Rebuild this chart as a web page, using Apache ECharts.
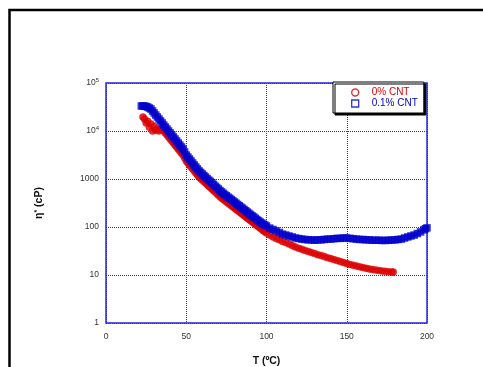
<!DOCTYPE html>
<html>
<head>
<meta charset="utf-8">
<script src="https://cdn.jsdelivr.net/npm/echarts@6/dist/echarts.min.js"></script>
<style>
  html, body { margin: 0; padding: 0; background: #fff; }
  #main { width: 483px; height: 367px; }
</style>
</head>
<body>
<div id="main"></div>
<script>
// 数据：温度 T (ºC) 与粘度 η* (cP)
var seriesNames = ['0% CNT', '0.1% CNT'];

var redT = [23, 24, 25, 26, 27, 28, 29, 30, 31, 32, 33, 34,
  35, 36, 37, 38, 39, 40, 41, 42, 43, 44, 45, 46, 47, 48, 49, 50,
  51, 52, 53, 54, 55, 56, 57, 58, 59, 60, 61, 62, 63, 64, 65, 66, 67, 68, 69, 70,
  71, 72, 73, 74, 75, 76, 77, 78, 79, 80, 81, 82, 83, 84, 85, 86, 87, 88, 89, 90,
  91, 92, 93, 94, 95, 96, 97, 98, 99, 100, 102, 104, 106, 108, 110,
  112, 114, 116, 118, 120, 122, 124, 126, 128, 130,
  132, 134, 136, 138, 140, 142, 144, 146, 148, 150, 152, 154, 156, 158, 160, 162, 164, 166, 168, 170,
  172, 174, 176, 178, 179];
var redEta = [19500, 17800, 14700, 16000, 12000, 14000, 10000, 12600, 10500, 11000, 10000, 11000,
  11000, 10000, 9090, 8250, 7500, 6810, 6190, 5620, 5110, 4640, 4220, 3830, 3480, 3160, 2740, 2370,
  2150, 1960, 1780, 1620, 1470, 1330, 1210, 1100, 1020, 950, 890, 830, 770, 710, 665, 620, 575, 540, 500, 465,
  430, 400, 380, 358, 335, 316, 297, 280, 264, 250, 235, 222, 209, 196, 185, 174, 164, 154, 145, 137,
  129, 121, 114, 107, 101, 95, 90, 84, 80, 75, 68, 62, 57.5, 54, 50,
  47.5, 44, 41, 38.5, 36, 34.5, 32.5, 31, 29.5, 28,
  26.5, 25.5, 24.3, 23, 22, 21, 20, 19.1, 18.2, 17.4, 16.6, 15.9, 15.4, 14.8, 14.3, 13.8, 13.4, 13, 12.7, 12.4,
  12.1, 11.9, 11.7, 11.6, 11.5];

var blueT = [22, 23, 24, 25, 26, 27, 28, 29, 30, 31, 32, 33, 34, 35, 36, 37, 38, 39, 40,
  41, 42, 43, 44, 45, 46, 47, 48, 49, 50, 51, 52, 53, 54, 55, 56, 57, 58, 59, 60,
  61, 62, 63, 64, 65, 66, 67, 68, 69, 70, 71, 72, 73, 74, 75, 76, 77, 78, 79, 80,
  81, 82, 83, 84, 85, 86, 87, 88, 89, 90, 91, 92, 93, 94, 95, 96, 97, 98, 99, 100,
  102, 104, 106, 108, 110, 112, 114, 116, 118, 120, 122, 124, 126, 128, 130,
  132, 134, 136, 138, 140, 142, 144, 146, 148, 150, 152, 154, 156, 158, 160, 162, 164, 166, 168, 170,
  172, 174, 176, 178, 180, 182, 184, 186, 188, 190, 192, 194, 196, 198, 199, 200];
var blueEta = [33200, 33200, 33200, 32400, 31600, 30100, 28700, 26100, 23700, 21500, 19600, 17800, 16200, 14700, 13300, 12100, 11000, 10000, 9090,
  8250, 7500, 6810, 6190, 5620, 5110, 4640, 4220, 3650, 3160, 2870, 2610, 2370, 2150, 1960, 1780, 1620, 1470, 1370, 1270,
  1180, 1100, 1020, 950, 890, 830, 770, 710, 665, 620, 575, 540, 505, 475, 448, 420, 397, 375, 352, 332,
  313, 294, 277, 261, 246, 232, 218, 205, 193, 182, 171, 162, 152, 143, 135, 127, 121, 115, 110, 105,
  95, 89, 83, 77, 71, 68, 65, 62, 59, 57.5, 56, 55, 54, 54, 53,
  54, 54, 55, 56, 56, 57, 58, 58, 59, 59, 58, 57, 56, 55, 55, 54, 54, 53, 53, 53,
  52.5, 52.5, 53, 53.5, 54, 55, 56, 59, 62, 65, 68, 73, 79, 87, 92, 96];

// 纵轴刻度标签（按10的幂次）
var yTickLabels = ['1', '10', '100', '1000', '10{s|4}', '10{s|5}'];

var red = '#dd0000';
var blue = '#0000cc';
var gridBlue = '#2626e0';

function pairs(xs, ys) {
  return xs.map(function (x, i) { return [x, ys[i]]; });
}

var myChart = echarts.init(document.getElementById('main'));

var option = {
  animation: false,
  backgroundColor: '#fff',
  textStyle: { fontFamily: 'Liberation Sans, Arial, sans-serif' },
  graphic: [{
    type: 'rect',
    shape: { x: 9.5, y: 10, width: 490, height: 380 },
    style: { fill: 'none', stroke: '#000', lineWidth: 2.5 },
    silent: true
  }],
  grid: {
    left: 106, right: 56, top: 83, bottom: 44,
    outerBoundsMode: 'none',
    containLabel: false,
    show: true,
    borderColor: gridBlue,
    borderWidth: 1.5
  },
  legend: {
    orient: 'vertical',
    left: 333, top: 82,
    padding: [5, 6, 4, 18],
    itemWidth: 7, itemHeight: 7,
    itemGap: 0,
    backgroundColor: '#fff',
    borderColor: '#000',
    borderWidth: 1,
    borderRadius: 0,
    shadowColor: '#000',
    shadowOffsetX: 2,
    shadowOffsetY: 2,
    shadowBlur: 0,
    textStyle: { fontSize: 10, lineHeight: 11, padding: [0, 0, 0, 8] },
    data: [
      { name: seriesNames[0], icon: 'circle',
        itemStyle: { color: '#fff', borderColor: red, borderWidth: 1.4 },
        textStyle: { color: red } },
      { name: seriesNames[1], icon: 'rect',
        itemStyle: { color: '#fff', borderColor: blue, borderWidth: 1.3 },
        textStyle: { color: blue } }
    ]
  },
  xAxis: {
    type: 'value',
    min: 0, max: 200, interval: 50,
    axisLine: { show: false },
    axisTick: { show: false },
    splitLine: { show: true, lineStyle: { color: gridBlue, type: 'dotted', width: 1 } },
    axisLabel: { fontSize: 8.5, color: '#333', margin: 9 },
    name: 'T (ºC)',
    nameLocation: 'middle',
    nameGap: 33,
    nameTextStyle: { fontWeight: 'bold', fontSize: 10.5, color: '#111' }
  },
  yAxis: {
    type: 'log',
    logBase: 10,
    min: 1, max: 100000,
    axisLine: { show: false },
    axisTick: { show: false },
    splitLine: { show: true, lineStyle: { color: gridBlue, type: 'dotted', width: 1 } },
    axisLabel: {
      fontSize: 8.5, color: '#333', margin: 7,
      formatter: function (v) {
        return yTickLabels[Math.round(Math.log10(v))];
      },
      rich: {
        s: { fontSize: 6, color: '#333', verticalAlign: 'top', padding: [0, 0, 5, 0] }
      }
    },
    name: '{a|η}{s|*}{a| (cP)}',
    nameLocation: 'middle',
    nameGap: 61,
    nameTextStyle: {
      rich: {
        a: { fontWeight: 'bold', fontSize: 10.5, color: '#111' },
        s: { fontWeight: 'bold', fontSize: 7, color: '#111', verticalAlign: 'top', padding: [0, 0, 4, 0] }
      }
    }
  },
  series: [
    {
      name: seriesNames[0],
      type: 'scatter',
      symbol: 'circle',
      symbolSize: 7,
      itemStyle: { color: red, borderColor: red, borderWidth: 0.5 },
      data: pairs(redT, redEta)
    },
    {
      name: seriesNames[1],
      type: 'scatter',
      symbol: 'rect',
      symbolSize: 7.5,
      itemStyle: { color: blue },
      data: pairs(blueT, blueEta)
    }
  ]
};

myChart.setOption(option);
</script>
</body>
</html>
